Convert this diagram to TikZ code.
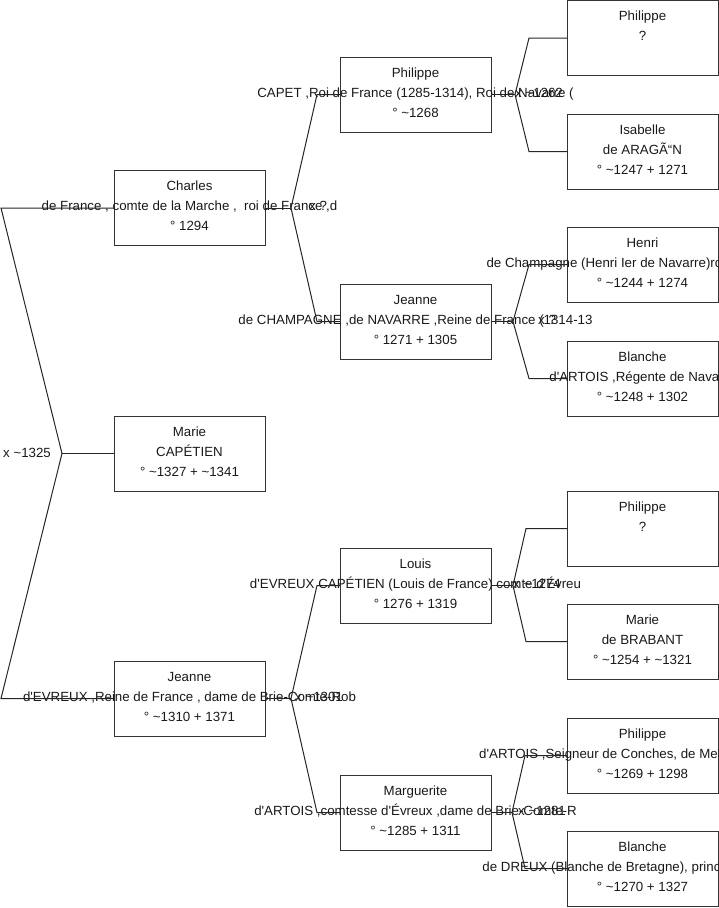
\documentclass[tikz,border=0pt]{standalone}
\usepackage{fontspec}
\setmainfont{Liberation Sans}[Ligatures=TeXOff]
\newcommand\tld{\textasciitilde}
\tikzset{
  pbox/.style={draw=black!80, line width=1pt, minimum width=151pt, minimum height=75pt, inner sep=0pt, outer sep=0pt},
  ptext/.style={anchor=base, inner sep=0pt, font=\fontsize{13.3}{15}\selectfont, text=black!90},
  mlabel/.style={anchor=base west, inner sep=0pt, font=\fontsize{13.3}{15}\selectfont, text=black!90},
  conn/.style={draw=black!85, line width=1pt}
}
\newcommand\person[6]{%
  \node[pbox] (#1) at (#2,#3) {};
  \node[ptext] (#1-a) at (#2,#3-17.5) {#4};
  \node[ptext] (#1-b) at (#2,#3+2.5) {#5};
  \node[ptext] (#1-c) at (#2,#3+22.5) {#6};
}
\begin{document}
\begin{tikzpicture}[x=1pt,y=-1pt]
\useasboundingbox (0,0) rectangle (719,908);
% generation 1
\person{charles}{189.5}{208}{Charles}{de France , comte de la Marche ,\ \ roi de France ,d}{° 1294}
\person{marie}{189.5}{453.5}{Marie}{CAPÉTIEN}{° \tld1327 + \tld1341}
\person{jeanneE}{189.5}{698.5}{Jeanne}{d'EVREUX ,Reine de France , dame de Brie-Comte-Rob}{° \tld1310 + 1371}
% generation 2
\person{philippeIV}{415.5}{94.5}{Philippe}{CAPET ,Roi de France (1285-1314), Roi de Navarre (}{° \tld1268}
\person{jeanneN}{415.5}{321.5}{Jeanne}{de CHAMPAGNE ,de NAVARRE ,Reine de France (1314-13}{° 1271 + 1305}
\person{louis}{415.5}{585.5}{Louis}{d'EVREUX CAPÉTIEN (Louis de France) comte d'Évreu}{° 1276 + 1319}
\person{marguerite}{415.5}{812.5}{Marguerite}{d'ARTOIS ,comtesse d'Évreux ,dame de Brie-Comte-R}{° \tld1285 + 1311}
% generation 3
\person{philippeIII}{642.5}{38}{Philippe}{?}{}
\person{isabelle}{642.5}{151.5}{Isabelle}{de ARAGÃ“N}{° \tld1247 + 1271}
\person{henri}{642.5}{264.5}{Henri}{de Champagne (Henri Ier de Navarre)roi de Navarre,}{° \tld1244 + 1274}
\person{blancheA}{642.5}{378.5}{Blanche}{d'ARTOIS ,Régente de Navarre}{° \tld1248 + 1302}
\person{philippeB}{642.5}{528.5}{Philippe}{?}{}
\person{marieB}{642.5}{641.5}{Marie}{de BRABANT}{° \tld1254 + \tld1321}
\person{philippeA}{642.5}{755.5}{Philippe}{d'ARTOIS ,Seigneur de Conches, de Mehun-sur-Yèvre,}{° \tld1269 + 1298}
\person{blancheD}{642.5}{868.5}{Blanche}{de DREUX (Blanche de Bretagne), princesse de Breta}{° \tld1270 + 1327}
% fork coordinates
\coordinate (m0) at (62,453.5);  \coordinate (m0a) at (1,208);   \coordinate (m0b) at (1,698.5);
\coordinate (m1) at (291,208);   \coordinate (m1a) at (317,94.5);  \coordinate (m1b) at (317,321.5);
\coordinate (m2) at (291,698.5); \coordinate (m2a) at (317,585.5); \coordinate (m2b) at (317,812.5);
\coordinate (m3) at (515,94.5);  \coordinate (m3a) at (529,38);    \coordinate (m3b) at (529,151.5);
\coordinate (m4) at (513,321.5); \coordinate (m4a) at (529,264.5); \coordinate (m4b) at (529,378.5);
\coordinate (m5) at (513,585.5); \coordinate (m5a) at (526,528.5); \coordinate (m5b) at (526,641.5);
\coordinate (m6) at (512,812.5); \coordinate (m6a) at (525,755.5); \coordinate (m6b) at (525,868.5);
% connectors
\draw[conn] (charles.west) -- (m0a) -- (m0) -- (m0b) -- (jeanneE.west);
\draw[conn] (m0) -- (marie.west);
\draw[conn] (philippeIV.west) -- (m1a) -- (m1) -- (m1b) -- (jeanneN.west);
\draw[conn] (m1) -- (charles.east);
\draw[conn] (louis.west) -- (m2a) -- (m2) -- (m2b) -- (marguerite.west);
\draw[conn] (m2) -- (jeanneE.east);
\draw[conn] (philippeIII.west) -- (m3a) -- (m3) -- (m3b) -- (isabelle.west);
\draw[conn] (m3) -- (philippeIV.east);
\draw[conn] (henri.west) -- (m4a) -- (m4) -- (m4b) -- (blancheA.west);
\draw[conn] (m4) -- (jeanneN.east);
\draw[conn] (philippeB.west) -- (m5a) -- (m5) -- (m5b) -- (marieB.west);
\draw[conn] (m5) -- (louis.east);
\draw[conn] (philippeA.west) -- (m6a) -- (m6) -- (m6b) -- (blancheD.west);
\draw[conn] (m6) -- (marguerite.east);
% marriage labels
\node[mlabel] (x0) at (3,457.5) {x \tld1325};
\node[mlabel] (x1) at (309,210.5) {x ?};
\node[mlabel] (x2) at (295,701) {x \tld1301};
\node[mlabel] (x3) at (515,97.5) {x \tld1262};
\node[mlabel] (x4) at (538,324) {x ?};
\node[mlabel] (x5) at (513,588) {x \tld1274};
\node[mlabel] (x6) at (518,815) {x \tld1281};
\end{tikzpicture}
\end{document}
